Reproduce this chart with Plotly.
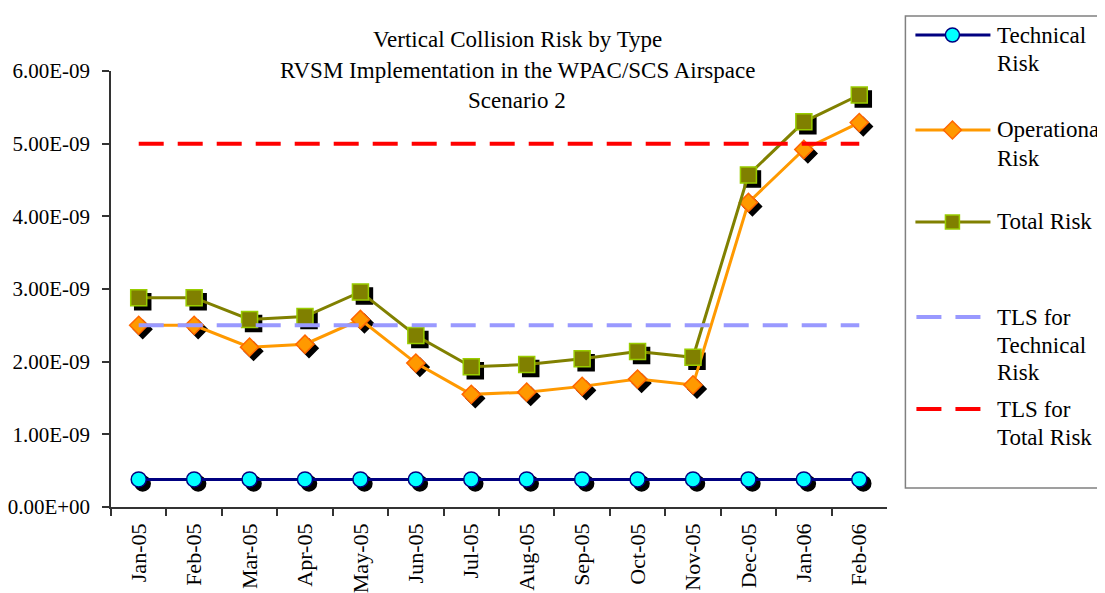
import plotly.graph_objects as go

months = ["Jan-05", "Feb-05", "Mar-05", "Apr-05", "May-05", "Jun-05", "Jul-05",
          "Aug-05", "Sep-05", "Oct-05", "Nov-05", "Dec-05", "Jan-06", "Feb-06"]
technical_risk = [0.38e-9] * 14
operational_risk = [2.50e-9, 2.50e-9, 2.20e-9, 2.24e-9, 2.58e-9, 1.98e-9, 1.55e-9,
                    1.58e-9, 1.66e-9, 1.76e-9, 1.68e-9, 4.19e-9, 4.92e-9, 5.29e-9]
total_risk = [2.88e-9, 2.88e-9, 2.58e-9, 2.62e-9, 2.96e-9, 2.36e-9, 1.93e-9,
              1.96e-9, 2.04e-9, 2.14e-9, 2.06e-9, 4.57e-9, 5.30e-9, 5.67e-9]
tls_technical = [2.5e-9] * 14
tls_total = [5.0e-9] * 14
ytick_vals = [0, 1e-9, 2e-9, 3e-9, 4e-9, 5e-9, 6e-9]
ytick_text = ["0.00E+00", "1.00E-09", "2.00E-09", "3.00E-09", "4.00E-09", "5.00E-09", "6.00E-09"]
title_lines = ["Vertical Collision Risk by Type",
               "RVSM Implementation in the WPAC/SCS Airspace",
               "Scenario 2"]

FONT = "Liberation Serif"
OFF = 8  # page body margin
W, H = 1105 - OFF, 593 - OFF
L, T = 111 - OFF, 71 - OFF
PW, PH = 779.6, 440.0  # paper area (incl. 4px shadow offset)
SH = 4

def px(x):  # screen x -> paper
    return (x - OFF - L) / PW

def py(y):  # screen y -> paper
    return (T + PH - (y - OFF)) / PH

fig = go.Figure()

# shadows (subplot xy, drawn below)
for vals, sym, size in [(technical_risk, "circle", 15), (operational_risk, "diamond", 14),
                        (total_risk, "square", 16)]:
    fig.add_trace(go.Scatter(x=months, y=vals, mode="markers", xaxis="x", yaxis="y",
                             marker=dict(symbol=sym, size=size, color="black",
                                         line=dict(width=1.5, color="black")),
                             showlegend=False, hoverinfo="skip"))

# main series (subplot x2y2)
fig.add_trace(go.Scatter(x=months, y=technical_risk, mode="lines+markers", xaxis="x2", yaxis="y2",
                         name="Technical Risk", line=dict(color="#000080", width=3),
                         marker=dict(symbol="circle", size=15, color="#00FFFF",
                                     line=dict(color="#000080", width=1.5))))
fig.add_trace(go.Scatter(x=months, y=operational_risk, mode="lines+markers", xaxis="x2", yaxis="y2",
                         name="Operational Risk", line=dict(color="#FF9900", width=3),
                         marker=dict(symbol="diamond", size=14, color="#FF9900",
                                     line=dict(color="#FF6600", width=1.5))))
fig.add_trace(go.Scatter(x=months, y=total_risk, mode="lines+markers", xaxis="x2", yaxis="y2",
                         name="Total Risk", line=dict(color="#808000", width=3),
                         marker=dict(symbol="square", size=16, color="#808000",
                                     line=dict(color="#99CC00", width=1.5))))
fig.add_trace(go.Scatter(x=months, y=tls_technical, mode="lines", xaxis="x2", yaxis="y2",
                         name="TLS for Technical Risk",
                         line=dict(color="#9999FF", width=4, dash="25px,14px")))
fig.add_trace(go.Scatter(x=months, y=tls_total, mode="lines", xaxis="x2", yaxis="y2",
                         name="TLS for Total Risk",
                         line=dict(color="#FF0000", width=4, dash="25px,14px")))

xd_main = [0, (PW - SH) / PW]
yd_main = [SH / PH, 1]
xd_sh = [SH / PW, 1]
yd_sh = [0, (PH - SH) / PH]

common_x = dict(type="category", categoryorder="array", categoryarray=months,
                range=[-0.5, 13.5], automargin=False)
common_y = dict(range=[0, 6e-9], automargin=False)

fig.update_layout(
    template="none",
    width=W, height=H,
    margin=dict(l=L, r=W - L - PW, t=T, b=H - T - PH, pad=0, autoexpand=False),
    paper_bgcolor="white", plot_bgcolor="rgba(0,0,0,0)",
    showlegend=False,
    font=dict(family=FONT, size=21, color="black"),
    xaxis=dict(domain=xd_sh, anchor="y", visible=False, **common_x),
    yaxis=dict(domain=yd_sh, anchor="x", visible=False, **common_y),
    xaxis2=dict(domain=xd_main, anchor="y2", showline=True, linecolor="#333333", linewidth=1.5,
                ticks="outside", ticklen=7, tickcolor="#333333", tickwidth=1.5,
                tickson="boundaries", tickangle=-90, showgrid=False, zeroline=False,
                tickfont=dict(family=FONT, size=22, color="black"), ticklabelstandoff=6, **common_x),
    yaxis2=dict(domain=yd_main, anchor="x2", showline=True, linecolor="#333333", linewidth=1.5,
                ticks="outside", ticklen=7, tickcolor="#333333", tickwidth=1.5,
                tickvals=ytick_vals, ticktext=ytick_text, showgrid=False, zeroline=False,
                tickfont=dict(family=FONT, size=21, color="black"), ticklabelstandoff=8, **common_y),
)

annotations = []
for i, line in enumerate(title_lines):
    annotations.append(dict(text=line, x=px(517), y=py(40 + 30 * i), xref="paper", yref="paper",
                            xanchor="center", yanchor="middle", showarrow=False,
                            font=dict(family=FONT, size=23, color="black")))

shapes = []
# legend frame
shapes.append(dict(type="rect", xref="paper", yref="paper", x0=px(905), x1=px(1112),
                   y0=py(488), y1=py(16), line=dict(color="#808080", width=1.5),
                   fillcolor="rgba(0,0,0,0)"))

legend_items = [
    (35, ["Technical", "Risk"], "#000080", 3, "solid", "circle"),
    (130, ["Operational", "Risk"], "#FF9900", 3, "solid", "diamond"),
    (222, ["Total Risk"], "#808000", 3, "solid", "square"),
    (317, ["TLS for", "Technical", "Risk"], "#9999FF", 4, "dash", None),
    (409, ["TLS for", "Total Risk"], "#FF0000", 4, "dash", None),
]
for yc, lines, color, width, dash, sym in legend_items:
    if dash == "solid":
        shapes.append(dict(type="line", xref="paper", yref="paper", x0=px(915), x1=px(990),
                           y0=py(yc), y1=py(yc), line=dict(color=color, width=width)))
    else:
        for a, b in [(916, 941), (955, 980)]:
            shapes.append(dict(type="line", xref="paper", yref="paper", x0=px(a), x1=px(b),
                               y0=py(yc), y1=py(yc), line=dict(color=color, width=width)))
    cx = px(952)
    if sym == "circle":
        shapes.append(dict(type="circle", xref="paper", yref="paper", xsizemode="pixel",
                           ysizemode="pixel", xanchor=cx, yanchor=py(yc), x0=-7, x1=7, y0=-7, y1=7,
                           fillcolor="#00FFFF", line=dict(color="#000080", width=1.5)))
    elif sym == "diamond":
        shapes.append(dict(type="path", xref="paper", yref="paper", xsizemode="pixel",
                           ysizemode="pixel", xanchor=cx, yanchor=py(yc),
                           path="M -9 0 L 0 9 L 9 0 L 0 -9 Z",
                           fillcolor="#FF9900", line=dict(color="#FF6600", width=1.5)))
    elif sym == "square":
        shapes.append(dict(type="rect", xref="paper", yref="paper", xsizemode="pixel",
                           ysizemode="pixel", xanchor=cx, yanchor=py(yc), x0=-7, x1=7, y0=-7, y1=7,
                           fillcolor="#808000", line=dict(color="#99CC00", width=1.5)))
    for j, txt in enumerate(lines):
        annotations.append(dict(text=txt, x=px(995), y=py(yc + 28 * j), xref="paper", yref="paper",
                                xanchor="left", yanchor="middle", showarrow=False,
                                font=dict(family=FONT, size=23, color="black")))

fig.update_layout(annotations=annotations, shapes=shapes)
fig.write_html("out.html")
